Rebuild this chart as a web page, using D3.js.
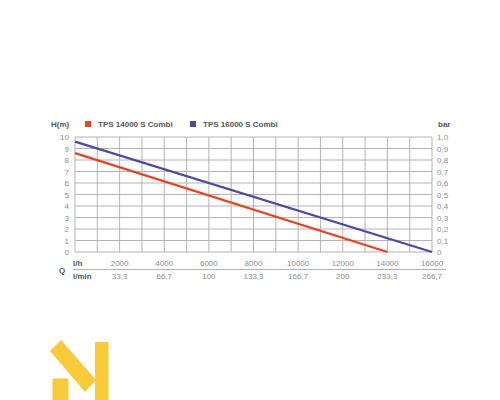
<!DOCTYPE html>
<html><head><meta charset="utf-8">
<script src="https://cdn.jsdelivr.net/npm/d3@7"></script>
<style>body{margin:0;background:#fff}svg{display:block}text{font-family:"Liberation Sans",Arial,sans-serif}</style>
</head><body><svg id="c" width="500" height="400"></svg>
<script>
const seriesNames = ["TPS 14000 S Combi", "TPS 16000 S Combi"];
const seriesColors = ["#e8421e", "#4a4aa6"];
const red14000 = [[0, 8.6], [14000, 0]];
const blue16000 = [[0, 9.6], [16000, 0]];
const yTicks = [0,1,2,3,4,5,6,7,8,9,10];
const barLabels = ["0","0,1","0,2","0,3","0,4","0,5","0,6","0,7","0,8","0,9","1,0"];
const lhTicks = [2000,4000,6000,8000,10000,12000,14000,16000];
const lminLabels = ["33,3","66,7","100","133,3","166,7","200","233,3","266,7"];

const svg = d3.select("#c");
const x = d3.scaleLinear().domain([0,16000]).range([75,432]);
const y = d3.scaleLinear().domain([0,10]).range([252,137]);
const grid = "#b3b3b3", tc = "#8c8c8c", dk = "#555";

// grid
svg.append("g").selectAll("line").data(d3.range(0,16001,1000)).join("line")
  .attr("x1",d=>x(d)).attr("x2",d=>x(d)).attr("y1",y(0)).attr("y2",y(10))
  .attr("stroke",grid).attr("stroke-width",1);
svg.append("g").selectAll("line").data(yTicks).join("line")
  .attr("x1",x(0)).attr("x2",x(16000)).attr("y1",d=>y(d)).attr("y2",d=>y(d))
  .attr("stroke",grid).attr("stroke-width",1);

// left labels
svg.append("g").selectAll("text").data(yTicks).join("text")
  .attr("x",69).attr("y",d=>y(d)+3).attr("text-anchor","end")
  .attr("font-size",8).attr("fill",tc).text(d=>d);
// right labels
svg.append("g").selectAll("text").data(yTicks).join("text")
  .attr("x",437).attr("y",d=>y(d)+3).attr("text-anchor","start")
  .attr("font-size",8).attr("fill",tc).text((d,i)=>barLabels[i]);

// bottom labels
svg.append("g").selectAll("text").data(lhTicks).join("text")
  .attr("x",d=>x(d)).attr("y",266).attr("text-anchor","middle")
  .attr("font-size",8).attr("fill",tc).text(d=>d);
svg.append("g").selectAll("text").data(lhTicks).join("text")
  .attr("x",d=>x(d)).attr("y",279).attr("text-anchor","middle")
  .attr("font-size",8).attr("fill",tc).text((d,i)=>lminLabels[i]);
svg.append("line").attr("x1",73).attr("x2",446).attr("y1",269.5).attr("y2",269.5)
  .attr("stroke",grid).attr("stroke-width",1);
svg.append("text").attr("x",73).attr("y",266).attr("font-size",8).attr("font-weight","bold").attr("fill",dk).text("l/h");
svg.append("text").attr("x",73).attr("y",279).attr("font-size",8).attr("font-weight","bold").attr("fill",dk).text("l/min");
svg.append("text").attr("x",59).attr("y",272.5).attr("font-size",8).attr("font-weight","bold").attr("fill",dk).text("Q");

// header
svg.append("text").attr("x",51).attr("y",127).attr("font-size",8).attr("font-weight","bold").attr("fill",dk).text("H(m)");
svg.append("text").attr("x",438).attr("y",127).attr("font-size",8).attr("font-weight","bold").attr("fill",dk).text("bar");
const legX = [85, 190];
seriesNames.forEach((n,i)=>{
  svg.append("rect").attr("x",legX[i]).attr("y",121).attr("width",6).attr("height",6).attr("fill",seriesColors[i]);
  svg.append("text").attr("x",legX[i]+13).attr("y",127).attr("font-size",8).attr("font-weight","bold").attr("fill",dk).text(n);
});

// lines
const line = d3.line().x(d=>x(d[0])).y(d=>y(d[1]));
[red14000, blue16000].forEach((s,i)=>{
  svg.append("path").datum(s).attr("d",line).attr("fill","none")
    .attr("stroke",seriesColors[i]).attr("stroke-width",2.2);
});

// logo
const logo = svg.append("g").attr("fill","#f7cb3a");
logo.append("rect").attr("x",95).attr("y",342).attr("width",13.5).attr("height",58);
logo.append("rect").attr("x",52.5).attr("y",378.5).attr("width",16).attr("height",21.5);
logo.append("polygon").attr("points","50,351 61,340 96,380 85,392");
</script></body></html>
